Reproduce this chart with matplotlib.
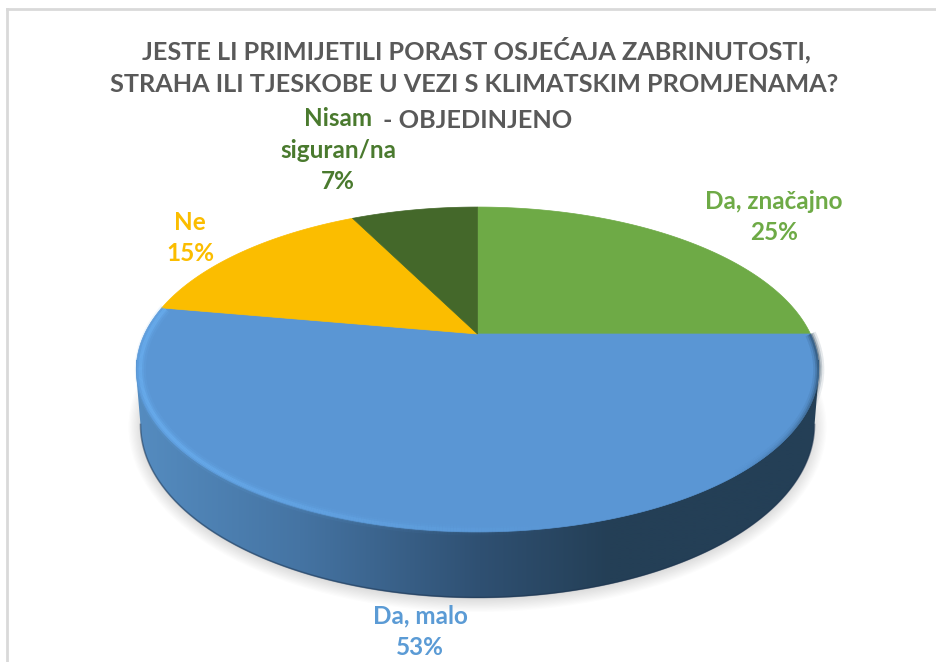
# Tarta 3D en perspectiva, dibujada a mano porque matplotlib no tiene pie con bisel
import numpy as np
import matplotlib
matplotlib.use('Agg')
import matplotlib.pyplot as plt
from matplotlib.patches import Polygon, Ellipse
from matplotlib.collections import LineCollection

categorias = ['Da, značajno', 'Da, malo', 'Ne', 'Nisam\nsiguran/na']
valores = [25, 52.8, 14.8, 7.4]
porcentajes = ['25%', '53%', '15%', '7%']
colores = ['#6EAA46', '#5A96D4', '#FBBD00', '#44682A']
colores_texto = ['#6EAA46', '#5B9BD5', '#FBBD00', '#4A7A2E']
pos_etiquetas = [(774, 217), (420, 632), (190, 238), (338, 150)]
titulo = ['JESTE LI PRIMIJETILI PORAST OSJEĆAJA ZABRINUTOSTI,',
          'STRAHA ILI TJESKOBE U VEZI S KLIMATSKIM PROMJENAMA?',
          '- OBJEDINJENO']

plt.rcParams['font.family'] = ['Lato', 'DejaVu Sans']

# Geometria de la tarta en pixeles
APEX_X, APEX_Y = 477.5, 334
A, B, K = 333, 154.7, 0.2185
CENTRO_Y, EJE_B, EJE_A = 425, 173, 337  # elipse inferior del lado


def proyectar(angulo):
    '''Pasa un angulo (horario desde arriba, radianes) a pixeles en perspectiva.'''
    u, v = np.sin(angulo), np.cos(angulo)
    d = 1 + K * v
    return APEX_X + A * u / d, APEX_Y - B * v / d


fig = plt.figure(figsize=(9.36, 6.62), dpi=100)
ax = fig.add_axes([0, 0, 1, 1])
ax.axis('off')

# Marco gris del recuadro
ax.plot([7, 7], [662, 9], color='#D9D9D9', lw=2, zorder=1)
ax.plot([7, 936], [9, 9], color='#D9D9D9', lw=2, zorder=1)

# Sombra difusa debajo de la tarta
for i in range(14):
    ax.add_patch(Ellipse((477.5, CENTRO_Y + 2), 2 * (EJE_A + 12 - i * 1.2), 2 * (EJE_B + 12 - i * 1.2),
                         color='#808080', alpha=0.022, lw=0, zorder=2))

# Lado de la tarta con degradado horizontal, recortado con un poligono
t = np.linspace(np.pi, 0, 400)
borde = np.column_stack([477.5 + EJE_A * np.cos(t), CENTRO_Y + EJE_B * np.sin(t)])
contorno = np.vstack([[[136, 372]], borde, [[819, 370], [819, 360], [136, 360]]])
stops_x = [136, 300, 480, 610, 819]
stops_rgb = np.array([[0x55, 0x8C, 0xC0], [0x45, 0x74, 0xA3], [0x2F, 0x50, 0x72],
                      [0x24, 0x3F, 0x56], [0x24, 0x3F, 0x56]]) / 255
xs = np.linspace(136, 819, 684)
gradiente = np.stack([np.interp(xs, stops_x, stops_rgb[:, i]) for i in range(3)], axis=-1)[None, :, :]
img = ax.imshow(gradiente, extent=(136, 819, 600, 360), aspect='auto', zorder=3, interpolation='bilinear')
lado = Polygon(contorno, closed=True, transform=ax.transData, fc='none', ec='none')
ax.add_patch(lado)
img.set_clip_path(lado)
ax.plot(borde[:, 0], borde[:, 1] - 0.5, color='#1F3550', lw=1.2, alpha=0.5, zorder=3)

# Cara superior: una cuna por cada valor
inicio = 0
for valor, color in zip(valores, colores):
    ang = np.radians(np.linspace(inicio, inicio + valor, 200) * 3.6)
    x, y = proyectar(ang)
    ax.add_patch(Polygon(np.column_stack([np.r_[APEX_X, x], np.r_[APEX_Y, y]]),
                         closed=True, fc=color, ec=color, lw=0.5, zorder=4))
    inicio += valor

# Bisel: brillo a la izquierda, sombra suave a la derecha
ang = np.radians(np.linspace(90, 280, 500))
x, y = proyectar(ang)
# solo se mete hacia dentro en la parte del brillo
factor = np.where(np.degrees(ang) > 160, 0.988, 1.0)
x = 477.5 + (x - 477.5) * factor
y = 370 + (y - 370) * factor
for ancho, alfa in [(8, 0.12), (5, 0.22), (2.5, 0.4)]:
    puntos = np.column_stack([x, y]).reshape(-1, 1, 2)
    segs = np.concatenate([puntos[:-1], puntos[1:]], axis=1)
    fuerza = np.clip((np.degrees(ang[:-1]) - 165) / 70, 0, 1) * alfa
    sombra = np.clip((140 - np.degrees(ang[:-1])) / 40, 0, 1) * alfa
    col = np.zeros((len(segs), 4))
    col[:, :3] = np.where((np.degrees(ang[:-1]) > 160)[:, None], [0.44, 0.72, 0.98], [0.14, 0.25, 0.34])
    col[:, 3] = fuerza + sombra
    ax.add_collection(LineCollection(segs, colors=col, linewidths=ancho, zorder=5))

# Etiquetas de cada porcion
for nombre, pct, color, (ex, ey) in zip(categorias, porcentajes, colores_texto, pos_etiquetas):
    ax.text(ex, ey, nombre + '\n' + pct, color=color, fontsize=17.5, fontweight='bold',
            ha='center', va='center', linespacing=1.45, zorder=7)

# Titulo en tres lineas
ax.text(476.5, 50, titulo[0], color='#595959', fontsize=18.2, fontweight='bold', ha='center', va='center', zorder=6)
ax.text(474, 85, titulo[1], color='#595959', fontsize=18.2, fontweight='bold', ha='center', va='center', zorder=6)
ax.text(478, 120, titulo[2], color='#595959', fontsize=18.2, fontweight='bold', ha='center', va='center', zorder=6)

ax.set_xlim(0, 936)
ax.set_ylim(662, 0)
fig.savefig('out.png', dpi=100)
